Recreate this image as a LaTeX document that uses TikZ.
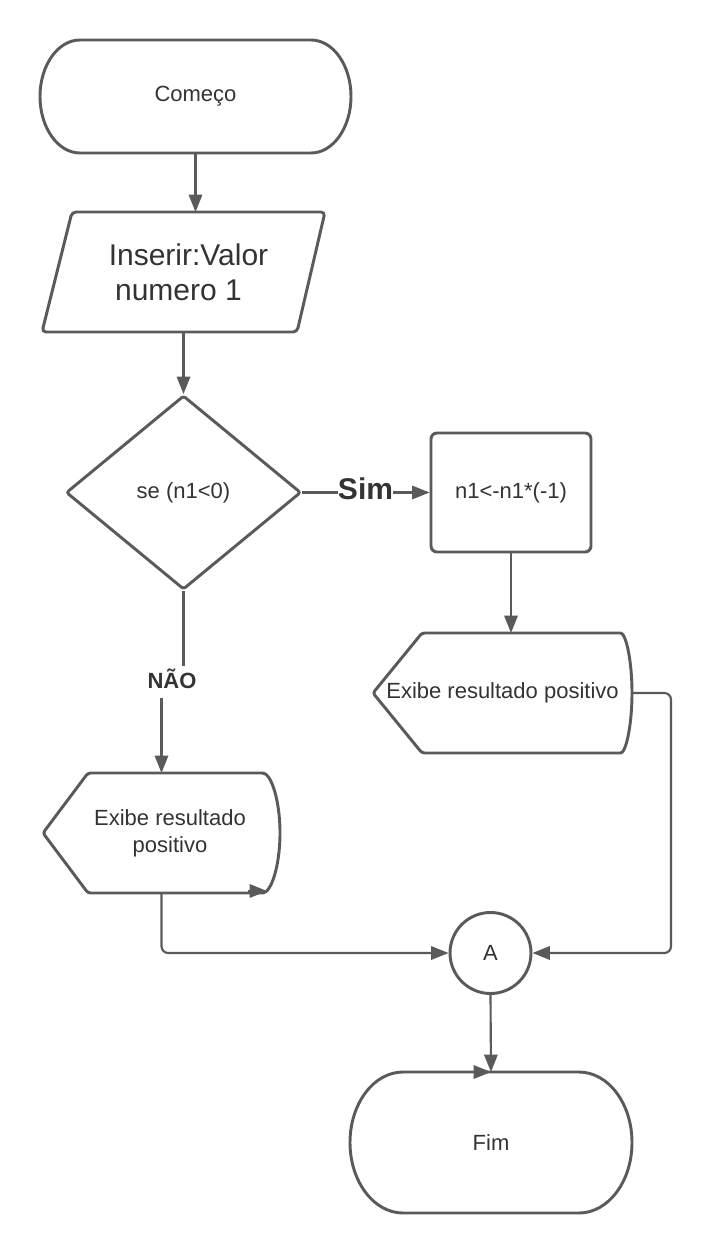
\documentclass[tikz,border=0pt]{standalone}
\usepackage{fontspec}
\setmainfont{Liberation Sans}
\usetikzlibrary{shapes.geometric,arrows.meta,calc}
\definecolor{linegray}{HTML}{5A5A5A}
\definecolor{txtgray}{HTML}{333333}
\tikzset{
  shapeline/.style={draw=linegray, line width=2.2pt},
  conn/.style={draw=linegray, line width=1.6pt, -{Triangle[length=13pt,width=10pt]}},
  txt/.style={text=txtgray, font=\fontsize{16.5}{20}\selectfont, align=center, inner sep=0pt},
  frame/.style={txt, rectangle, draw=none, outer sep=0pt}
}
\newcommand{\termshape}[3]{%
  \draw[shapeline] ($(#1.north west)+(#2,0)$) -- ($(#1.north east)+(-#2,0)$)
    arc[start angle=90,end angle=-90,x radius=#2,y radius=#3]
    -- ($(#1.south west)+(#2,0)$)
    arc[start angle=270,end angle=90,x radius=#2,y radius=#3] -- cycle;}
\newcommand{\dispshape}[3]{%
  \draw[shapeline, rounded corners=2pt] (#1.west) -- ($(#1.north west)+(#2,0)$) -- ($(#1.north east)+(-#3,0)$)
    arc[start angle=90,end angle=-90,x radius=#3,y radius=60]
    -- ($(#1.south west)+(#2,0)$) -- cycle;}
\begin{document}
\begin{tikzpicture}[x=0.75pt,y=0.75pt]
\useasboundingbox (0,0) rectangle (712,-1253);
\node[frame, minimum width=233.25pt, minimum height=84.75pt] (beg) at (195.5,-96.5) {Começo};
\termshape{beg}{40}{56.5}
\node[frame, minimum width=212.25pt, minimum height=90pt, font=\fontsize{22.5}{26.25}\selectfont] (io) at (183.5,-272) {\hspace*{7.5pt}Inserir:Valor\\numero 1\hspace*{7.5pt}};
\draw[shapeline, rounded corners=3pt] ($(io.north west)+(30,0)$) -- (io.north east) -- ($(io.south east)+(-28,0)$) -- (io.south west) -- cycle;
\node[txt, diamond, shapeline, rounded corners=2pt, minimum width=176.25pt, minimum height=145.5pt] (dec) at (183.5,-492.5) {se (n1<0)};
\node[txt, shapeline, rounded corners=4.5pt, minimum width=120pt, minimum height=89.25pt] (proc) at (511,-492.5) {n1<-n1*(-1)};
\node[frame, minimum width=194.25pt, minimum height=90pt] (rdisp) at (502.5,-693) {Exibe resultado positivo};
\dispshape{rdisp}{49}{14}
\node[frame, minimum width=177.75pt, minimum height=90pt] (ldisp) at (161.5,-833) {\hspace*{12.75pt}Exibe resultado\\\hspace*{12.75pt}positivo};
\dispshape{ldisp}{45}{20}
\node[txt, circle, shapeline, minimum size=60.75pt] (conA) at (490.5,-953) {A};
\node[frame, minimum width=211.5pt, minimum height=105.75pt] (fim) at (491,-1142.5) {Fim};
\termshape{fim}{53}{70.5}
\node[txt, font=\bfseries\fontsize{22.5}{26}\selectfont] (sim) at (365.5,-488.5) {Sim};
\node[txt, inner sep=2pt, font=\bfseries\fontsize{16.5}{20}\selectfont] (nao) at (172,-679) {NÃO};
\path (nao.south) ++(0,-6) coordinate (naobase);
\draw[conn] (beg.south) -- (beg.south |- io.north);
\draw[conn] (io.south) -- (dec.north);
\draw[conn, -] (dec.east) -- (dec.east -| sim.west);
\draw[conn] (sim.east |- proc.west) -- (proc.west);
\draw[conn, -] (dec.south) -- (dec.south |- nao.north);
\draw[conn] (ldisp.north |- naobase) -- (ldisp.north);
\draw[conn] (proc.south) -- (proc.south |- rdisp.north);
\draw[conn, rounded corners=5pt] (rdisp.east) -- ++(39,0) |- (conA.east);
\draw[conn, rounded corners=5pt] (ldisp.south) |- (conA.west);
\draw[conn] (conA.south) -- (fim.north);
\draw[conn] ($(ldisp.south east)+(-32,2)$) -- ($(ldisp.south east)+(-13,2)$);
\draw[conn] ($(fim.north)+(-22,0)$) -- (fim.north);
\end{tikzpicture}
\end{document}
